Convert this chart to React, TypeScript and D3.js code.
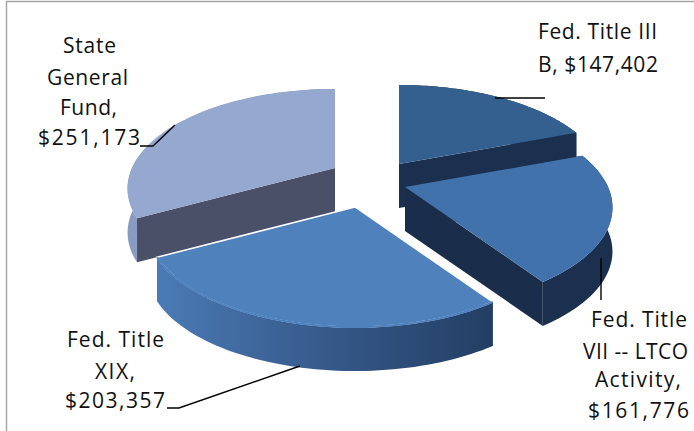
import React from "react";
import * as d3 from "d3";

// ---- data ----
const categories = ["Fed. Title III B", "Fed. Title VII -- LTCO Activity", "Fed. Title XIX", "State General Fund"];
const values = [147402, 161776, 203357, 251173];

// ---- layout / style ----
const W = 694, H = 431;
const apexes: [number, number][] = [[399, 164], [405, 187], [355, 207], [335, 168]];
const topColors = ["#34608f", "#4272ab", "#4f81bd", "#95a8cf"];
const wallColors = ["#1b304f", "#1a2e4b", "url(#xixWall)", "#4a5068"];
const arcColors = ["#1b304f", "#1b304f", "url(#xixWall)", "#8a9bc2"];
const drawOrder = [0, 3, 1, 2];
const depth = 44;
const radius = 203, flat = 95.3, persp = 0.206;

// each label line: text, left edge, right edge, baseline
const labelLines: [string, number, number, number][] = [
  ["Fed. Title III", 538, 657, 39],
  ["B, $147,402", 538, 658, 72],
  ["Fed. Title", 591, 687, 327],
  ["VII -- LTCO", 583, 688, 359],
  ["Activity,", 595, 681, 387],
  ["$161,776", 588, 689, 418],
  ["Fed. Title", 67, 164, 347],
  ["XIX,", 95, 135, 379],
  ["$203,357", 65, 165, 408],
  ["State", 63, 116, 53],
  ["General", 47, 128, 85],
  ["Fund,", 60, 117, 115],
  ["$251,173", 38, 140, 145],
];
const leaders = [
  [[495, 98], [545, 98]],
  [[601, 258], [601, 300]],
  [[167, 408], [179, 408], [300, 366]],
  [[140, 146], [153, 146], [175, 125]],
];

const project = (a: number, apex: [number, number], dz = 0): [number, number] => {
  const X = Math.sin(a), Y = Math.cos(a), w = 1 + persp * Y;
  return [apex[0] + (X * radius) / w, apex[1] - (Y * flat) / w + dz];
};

const pie = d3.pie<number>().sort(null);
const arcs = pie(values);
const line = d3.line();

const arcPoints = (s: number, e: number, apex: [number, number], dz = 0) =>
  d3.range(0, 61).map((i) => project(s + ((e - s) * i) / 60, apex, dz));

function faces(i: number) {
  const { startAngle: s, endAngle: e } = arcs[i];
  const ap = apexes[i];
  const down = (p: [number, number]): [number, number] => [p[0], p[1] + depth];
  const outer = arcPoints(s, e, ap);
  const wall = (a: [number, number], b: [number, number]) => [a, b, down(b), down(a)];
  const list = [
    { pts: wall(ap, outer[0]), fill: wallColors[i] },
    { pts: wall(ap, outer[60]), fill: wallColors[i] },
    { pts: [...outer, ...outer.map(down).reverse()], fill: arcColors[i] },
  ];
  return list.sort(
    (a, b) => d3.mean(a.pts, (p) => p[1])! - d3.mean(b.pts, (p) => p[1])!
  );
}

export default function App() {
  return (
    <svg
      width={W}
      height={H}
      viewBox={`0 0 ${W} ${H}`}
      style={{ position: "absolute", left: 0, top: 0, background: "#fff" }}
    >
      <defs>
        <linearGradient id="xixWall" gradientUnits="userSpaceOnUse" x1={160} x2={494} y1={0} y2={0}>
          <stop offset="0" stopColor="#4a7ab5" />
          <stop offset="0.5" stopColor="#36598a" />
          <stop offset="1" stopColor="#223e63" />
        </linearGradient>
      </defs>
      <path d="M6.5 431V1.5H694" fill="none" stroke="#a6a6a6" strokeWidth={1.5} />
      {drawOrder.map((i) => {
        const top = [apexes[i], ...arcPoints(arcs[i].startAngle, arcs[i].endAngle, apexes[i])];
        return (
          <g key={categories[i]}>
            {faces(i).map((f, k) => (
              <path key={k} d={line(f.pts as [number, number][]) + "Z"} fill={f.fill} />
            ))}
            <path
              d={line(top as [number, number][]) + "Z"}
              fill={topColors[i]}
              stroke={i === 2 ? "#fff" : "none"}
              strokeWidth={i === 2 ? 1.5 : 0}
            />
            {i === 2 && (
              <path d={line(arcPoints(arcs[i].startAngle, arcs[i].endAngle, apexes[i]))!} fill="none" stroke={topColors[i]} strokeWidth={2} />
            )}
          </g>
        );
      })}
      {leaders.map((l, i) => (
        <path key={i} d={line(l as [number, number][])!} fill="none" stroke="#000" strokeWidth={1.4} />
      ))}
      {labelLines.map(([t, x0, x1, y], i) => (
        <text
          key={i}
          x={x0}
          y={y}
          textLength={x1 - x0}
          lengthAdjust="spacing"
          fontFamily="'Open Sans', 'Noto Sans', sans-serif"
          fontSize={21}
          fill="#111"
        >
          {t}
        </text>
      ))}
    </svg>
  );
}
